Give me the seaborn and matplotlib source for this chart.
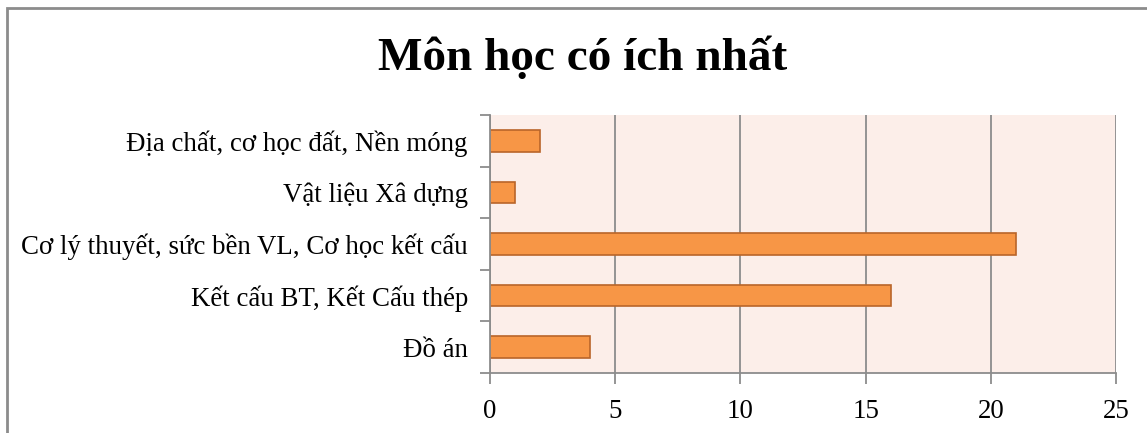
# Biểu đồ: Môn học có ích nhất
import matplotlib
matplotlib.use("Agg")
import matplotlib.pyplot as plt
from matplotlib.patches import Rectangle
import seaborn as sns
import pandas as pd

# ----- Dữ liệu -----
mon_hoc = [
    "Địa chất, cơ học đất, Nền móng",
    "Vật liệu Xâ dựng",
    "Cơ lý thuyết, sức bền VL, Cơ học kết cấu",
    "Kết cấu BT, Kết Cấu thép",
    "Đồ án",
]
so_phieu = [2, 1, 21, 16, 4]
x_ticks = [0, 5, 10, 15, 20, 25]

df = pd.DataFrame({"mon": mon_hoc, "so": so_phieu})

sns.set_style("white")
plt.rcParams["font.family"] = ["Liberation Serif", "DejaVu Serif"]
plt.rcParams["text.color"] = "black"
plt.rcParams["xtick.labelcolor"] = "black"
plt.rcParams["ytick.labelcolor"] = "black"

W, H = 1147, 433
fig = plt.figure(figsize=(W / 100, H / 100), dpi=100)
ax = fig.add_axes([490 / W, 1 - 373 / H, (1116 - 490) / W, (373 - 115) / H])

sns.barplot(data=df, y="mon", x="so", orient="h", ax=ax,
            color="#F79646", edgecolor="#B9652A", linewidth=1.2,
            width=0.42, saturation=1)

ax.set_facecolor("#FCEEE9")
ax.set_xlim(0, 25)
ax.set_ylim(4.5, -0.5)
ax.set_xticks(x_ticks)
ax.set_xticklabels([str(t) for t in x_ticks], fontsize=19.4)
ax.xaxis.grid(True, color="#8C8C8C", linewidth=1.3)
ax.set_axisbelow(True)
ax.set_xlabel("")
ax.set_ylabel("")

# nhãn ở giữa, vạch chia ở ranh giới các nhóm
ax.tick_params(axis="y", which="major", length=0, labelsize=19.4, pad=16)
ax.set_yticks([i - 0.5 for i in range(len(mon_hoc) + 1)], minor=True)
ax.tick_params(axis="y", which="minor", length=7, width=1.3, color="#8C8C8C", left=True)
ax.tick_params(axis="x", length=8, width=1.3, color="#8C8C8C", bottom=True, pad=11)

for side in ["top", "right"]:
    ax.spines[side].set_visible(False)
for side in ["left", "bottom"]:
    ax.spines[side].set_color("#8C8C8C")
    ax.spines[side].set_linewidth(1.3)

fig.text(583 / W, 1 - 58 / H, "Môn học có ích nhất", ha="center", va="center",
         fontsize=34, fontweight="bold", color="black")

# khung viền ngoài
fig.add_artist(Rectangle((7 / W, -0.1), 1.2, 1 - 7.5 / H + 0.1,
                         transform=fig.transFigure, fill=False,
                         edgecolor="#8C8C8C", linewidth=2))

fig.savefig("out.png", dpi=100)
